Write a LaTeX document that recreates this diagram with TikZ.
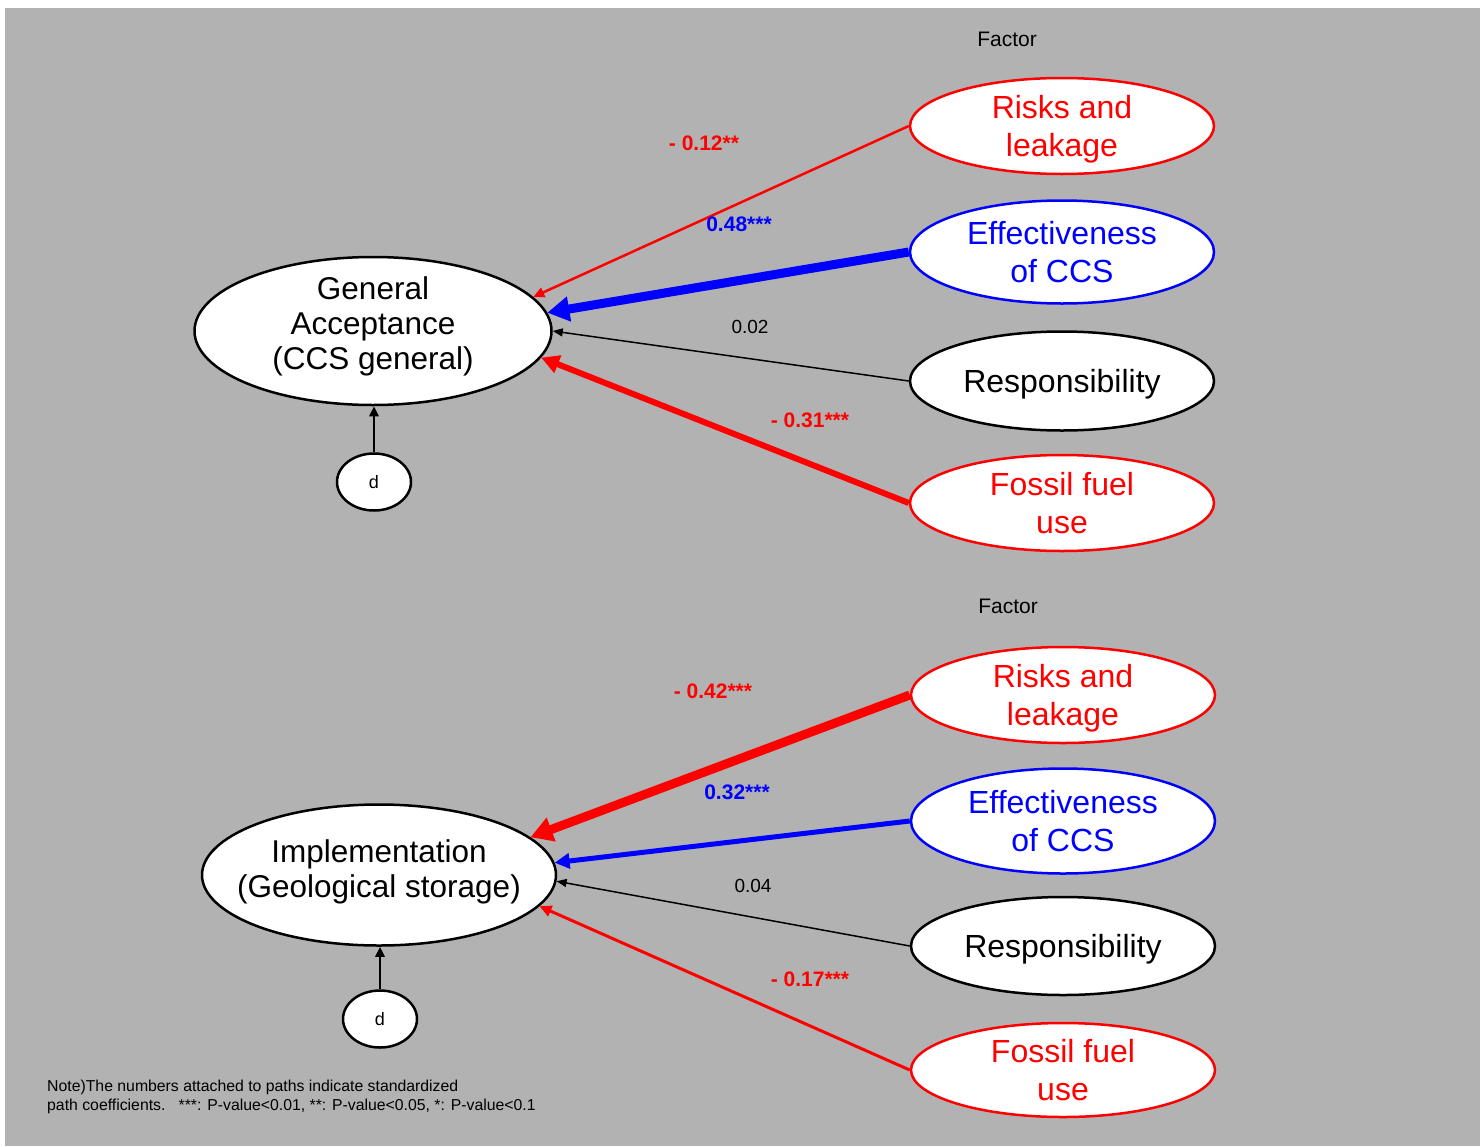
\documentclass[tikz,border=0pt]{standalone}
\usepackage{fontspec}
\setmainfont{Liberation Sans}
\usetikzlibrary{shapes.geometric,arrows.meta}
\definecolor{bg}{RGB}{178,178,178}
\definecolor{myred}{RGB}{255,0,0}
\definecolor{myblue}{RGB}{0,0,255}
\begin{document}
\begin{tikzpicture}[x=1pt,y=-1pt,
  fac/.style={ellipse, draw, fill=white, line width=2.5pt, minimum width=304pt, minimum height=96pt, inner sep=0pt, text depth=0pt, align=center, font=\fontsize{32}{38}\selectfont},
  mainfac/.style={ellipse, draw, fill=white, line width=2.5pt, inner xsep=-40pt, inner ysep=-15pt, align=center, font=\fontsize{31.5}{35}\selectfont},
  dnode/.style={ellipse, draw, fill=white, line width=2.5pt, minimum width=74pt, minimum height=57pt, inner sep=0pt, font=\fontsize{18}{20}\selectfont},
  redc/.style={draw=myred, text=myred},
  bluec/.style={draw=myblue, text=myblue},
  coef/.style={font=\fontsize{21}{24}\selectfont\bfseries, inner sep=0pt},
  plainc/.style={font=\fontsize{19}{22}\selectfont, inner sep=0pt},
  factorlbl/.style={font=\fontsize{21}{24}\selectfont, inner sep=0pt}
]
\useasboundingbox (0,0) rectangle (1480,1146);
\fill[white] (0,0) rectangle (1480,1146);
\fill[bg] (5,8) rectangle (1480,1146);

% ---------- top block ----------
\node[factorlbl] (fac1) at (1007,39) {Factor};
\node[mainfac, minimum width=357pt, minimum height=148pt, text depth=16pt] (ga) at (373,331) {General\\Acceptance\\(CCS general)};
\node[fac, redc] (r1) at (1062,126) {Risks and\\leakage};
\node[fac, bluec, minimum height=103pt] (e1) at (1062,252) {Effectiveness\\of CCS};
\node[fac, minimum height=99pt] (p1) at (1062,381) {Responsibility};
\node[fac, redc] (f1) at (1062,503) {Fossil fuel\\use};
\node[dnode] (d1) at (374,482) {d};

\draw[myred, line width=2.5pt, -{Triangle[length=11pt,width=10pt]}] (r1.west) -- (ga.12);
\draw[myblue, line width=9pt, -{Triangle[length=22pt,width=24pt]}] (e1.west) -- (ga.6);
\draw[black, line width=1.5pt, -{Triangle[length=10pt,width=8pt]}] (p1.west) -- (ga.0);
\draw[myred, line width=6pt, -{Triangle[length=18pt,width=18pt]}] (f1.west) -- (ga.-9);
\draw[black, line width=2.5pt, -{Triangle[length=10pt,width=9pt]}] (d1.north) -- (d1.north |- ga.south);

\node[coef, text=myred] (c1) at (704,143) {- 0.12**};
\node[coef, text=myblue] (c2) at (739,224) {0.48***};
\node[plainc] (c3) at (750,327) {0.02};
\node[coef, text=myred] (c4) at (810,420) {- 0.31***};

% ---------- bottom block ----------
\node[factorlbl] (fac2) at (1008,606) {Factor};
\node[mainfac, minimum width=354pt, minimum height=141pt, text depth=13pt] (im) at (379,875) {Implementation\\(Geological storage)};
\node[fac, redc] (r2) at (1063,695) {Risks and\\leakage};
\node[fac, bluec, minimum height=105pt] (e2) at (1063,821) {Effectiveness\\of CCS};
\node[fac, minimum height=98pt] (p2) at (1063,946) {Responsibility};
\node[fac, redc, minimum height=94pt] (f2) at (1063,1070) {Fossil fuel\\use};
\node[dnode] (d2) at (380,1019) {d};

\draw[myred, line width=9pt, -{Triangle[length=22pt,width=24pt]}] (r2.west) -- (im.14);
\draw[myblue, line width=5pt, -{Triangle[length=15pt,width=15pt]}] (e2.west) -- (im.4);
\draw[black, line width=1.5pt, -{Triangle[length=10pt,width=8pt]}] (p2.west) -- (im.-2.5);
\draw[myred, line width=3pt, -{Triangle[length=12pt,width=11pt]}] (f2.west) -- (im.-11.5);
\draw[black, line width=2.5pt, -{Triangle[length=10pt,width=9pt]}] (d2.north) -- (d2.north |- im.south);

\node[coef, text=myred] (c5) at (713,691) {- 0.42***};
\node[coef, text=myblue] (c6) at (737,792) {0.32***};
\node[plainc] (c7) at (753,886) {0.04};
\node[coef, text=myred] (c8) at (810,979) {- 0.17***};

\node[anchor=north west, align=left, inner sep=0pt, font=\fontsize{15.8}{19}\selectfont] (note) at (47,1080)
  {Note)The numbers attached to paths indicate standardized\\path coefficients.\ \ \ ***: P-value<0.01, **: P-value<0.05, *: P-value<0.1};
\end{tikzpicture}
\end{document}
